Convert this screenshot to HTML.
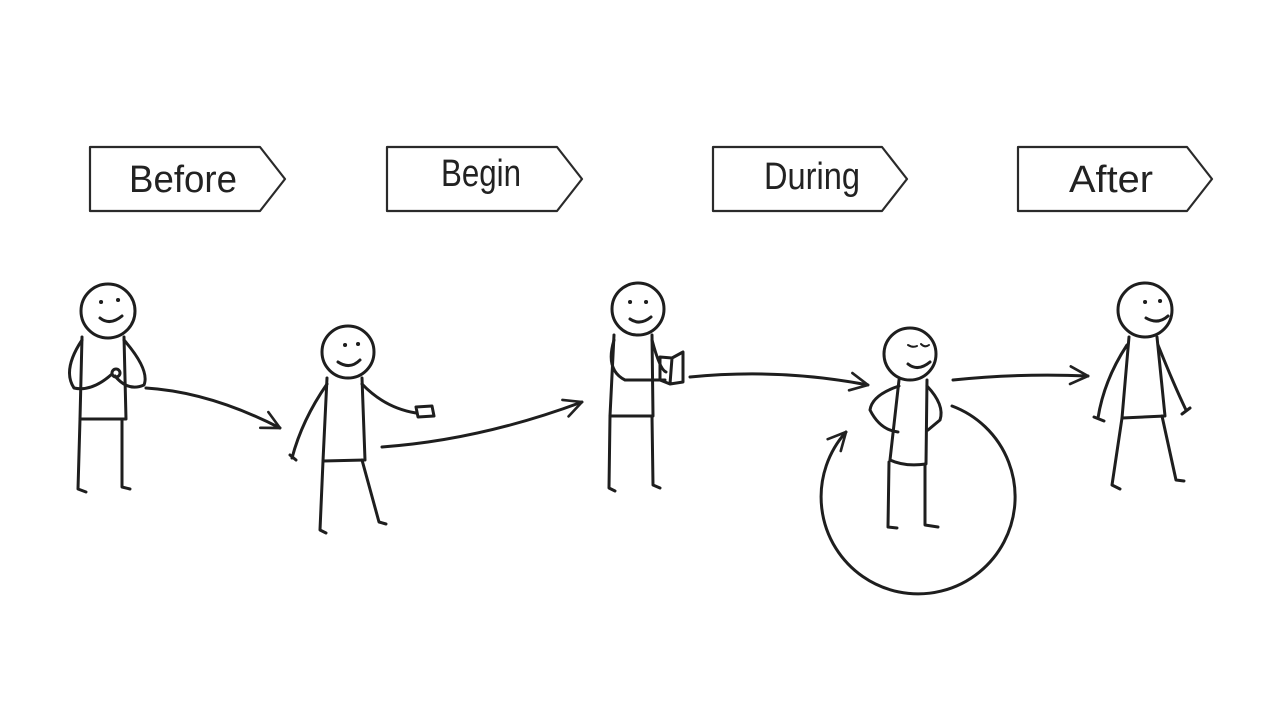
<!DOCTYPE html>
<html><head><meta charset="utf-8"><style>html,body{margin:0;padding:0;background:#fff}svg{display:block}</style></head>
<body>
<svg width="1278" height="708" viewBox="0 0 1278 708" xmlns="http://www.w3.org/2000/svg">
<defs>
<marker id="ah" viewBox="0 0 20 20" refX="18" refY="10" markerWidth="22" markerHeight="22" markerUnits="userSpaceOnUse" orient="auto">
<path d="M2 2 L18 10 L2 18" fill="none" stroke="#222" stroke-width="2.4" stroke-linecap="round" stroke-linejoin="round"/>
</marker>
</defs>
<g fill="none" stroke="#2a2a2a" stroke-width="2.2" stroke-linejoin="round">
<path d="M90 147 L260 147 L285 179 L260 211 L90 211 Z"/>
<path d="M387 147 L557 147 L582 179 L557 211 L387 211 Z"/>
<path d="M713 147 L882 147 L907 179 L882 211 L713 211 Z"/>
<path d="M1018 147 L1187 147 L1212 179 L1187 211 L1018 211 Z"/>
</g>
<g font-family="Liberation Sans, sans-serif" font-size="38" fill="#222" text-anchor="middle">
<text x="183" y="192" textLength="108" lengthAdjust="spacingAndGlyphs">Before</text>
<text x="481" y="186" textLength="80" lengthAdjust="spacingAndGlyphs">Begin</text>
<text x="812" y="189" textLength="96" lengthAdjust="spacingAndGlyphs">During</text>
<text x="1111" y="192" textLength="84" lengthAdjust="spacingAndGlyphs">After</text>
</g>
<g fill="none" stroke="#1e1e1e" stroke-width="3" stroke-linecap="round" stroke-linejoin="round">
<circle cx="108" cy="311" r="27"/>
<path d="M101 302 h0.1 M118 300 h0.1" stroke-width="4"/>
<path d="M100 318 Q110 326 122 316"/>
<path d="M82 337 L80 419 L126 419 L124 337"/>
<path d="M80 419 L78 489 L86 492 M122 419 L122 487 L130 489"/>
<path d="M82 340 Q62 370 74 388 Q92 392 112 374"/>
<path d="M124 340 Q150 370 144 385 Q128 392 115 376"/>
<circle cx="116" cy="373" r="4"/>
<circle cx="348" cy="352" r="26"/>
<path d="M345 345 h0.1 M358 344 h0.1" stroke-width="4"/>
<path d="M338 362 Q350 370 360 360"/>
<path d="M327 378 L323 461 L365 460 L362 378"/>
<path d="M323 461 L320 530 L326 533 M362 460 L379 522 L386 524"/>
<path d="M327 384 Q302 420 292 458 M290 455 L296 460"/>
<path d="M362 384 Q385 408 416 413"/>
<path d="M416 407 L432 406 L434 416 L418 417 Z"/>
<circle cx="638" cy="309" r="26"/>
<path d="M630 302 h0.1 M646 302 h0.1" stroke-width="4"/>
<path d="M630 319 Q640 326 651 317"/>
<path d="M614 335 L610 416 L653 416 L652 335"/>
<path d="M610 416 L609 488 L615 491 M652 416 L653 485 L660 488"/>
<path d="M614 340 Q605 370 625 380 L665 380"/>
<path d="M652 340 Q660 370 666 372"/>
<path d="M660 357 L672 358 L683 352 L683 382 L670 384 L660 380 Z M672 358 L670 384"/>
<circle cx="910" cy="354" r="26"/>
<path d="M908 345 Q913 348 917 346 M921 344 Q925 348 929 345" stroke-width="2"/>
<path d="M908 364 Q918 372 930 362"/>
<path d="M899 380 L890 460 Q905 467 926 464 L927 380"/>
<path d="M889 462 L888 527 L897 528 M925 464 L925 525 L938 527"/>
<path d="M899 386 Q872 395 870 410 Q880 430 898 432"/>
<path d="M927 386 Q945 405 940 420 L928 430"/>
<path d="M952 406 A97 97 0 1 1 846 432" marker-end="url(#ah)"/>
<circle cx="1145" cy="310" r="27"/>
<path d="M1145 302 h0.1 M1160 301 h0.1" stroke-width="4"/>
<path d="M1146 318 Q1158 325 1168 316"/>
<path d="M1129 337 L1122 418 L1165 416 L1157 337"/>
<path d="M1122 418 L1112 485 L1120 489 M1162 416 L1176 480 L1184 481"/>
<path d="M1127 345 Q1104 380 1098 418 M1094 417 L1104 421"/>
<path d="M1158 345 Q1174 385 1186 410 M1182 414 L1190 408"/>
<path d="M146 388 Q210 392 280 428" marker-end="url(#ah)"/>
<path d="M382 447 Q480 440 582 402" marker-end="url(#ah)"/>
<path d="M690 377 Q780 368 868 385" marker-end="url(#ah)"/>
<path d="M953 380 Q1020 373 1088 376" marker-end="url(#ah)"/>
</g>
</svg>
</body></html>
